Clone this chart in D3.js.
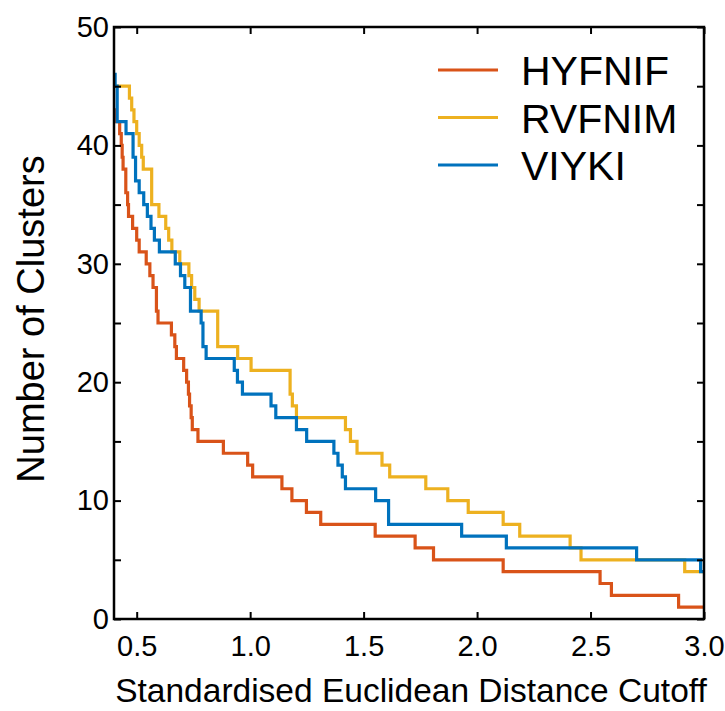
<!DOCTYPE html>
<html>
<head>
<meta charset="utf-8">
<script src="https://cdn.jsdelivr.net/npm/d3@7"></script>
<style>
  body { margin: 0; background: #fff; }
  text { font-family: "Liberation Sans", Arial, Helvetica, sans-serif; fill: #000; }
</style>
</head>
<body>
<svg id="chart" width="725" height="711"></svg>
<script>
// step data: [cutoff where the count starts, number of clusters]
const hyfnif = [
  [0.400, 43], [0.409, 42], [0.425, 41], [0.432, 40], [0.436, 39], [0.440, 38],
  [0.452, 36], [0.460, 35], [0.464, 34], [0.482, 33], [0.500, 32], [0.511, 31],
  [0.542, 30], [0.558, 29], [0.572, 28], [0.587, 26], [0.594, 25], [0.653, 24],
  [0.668, 23], [0.675, 22], [0.707, 21], [0.720, 20], [0.728, 19], [0.733, 18],
  [0.740, 17], [0.745, 16], [0.770, 15], [0.882, 14], [0.989, 13], [1.011, 12],
  [1.140, 11], [1.184, 10], [1.248, 9], [1.311, 8], [1.551, 7], [1.727, 6],
  [1.808, 5], [2.115, 4], [2.542, 3], [2.592, 2], [2.888, 1], [3.0, 1]
];
const rvfnim = [
  [0.400, 45], [0.468, 44], [0.478, 43], [0.488, 42], [0.500, 41], [0.511, 40],
  [0.522, 39], [0.529, 38], [0.566, 35], [0.598, 34], [0.628, 33], [0.641, 32],
  [0.655, 31], [0.690, 30], [0.730, 29], [0.742, 28], [0.756, 27], [0.775, 26],
  [0.857, 23], [0.945, 22], [1.004, 21], [1.176, 19], [1.186, 18], [1.204, 17],
  [1.420, 16], [1.442, 15], [1.471, 14], [1.581, 13], [1.615, 12], [1.774, 11],
  [1.871, 10], [1.961, 9], [2.115, 8], [2.188, 7], [2.410, 6], [2.458, 5],
  [2.915, 4], [3.0, 4]
];
const viyki = [
  [0.400, 46], [0.405, 45], [0.414, 42], [0.453, 41], [0.484, 39], [0.495, 37],
  [0.511, 36], [0.531, 35], [0.547, 34], [0.563, 33], [0.578, 32], [0.600, 31],
  [0.670, 30], [0.693, 29], [0.712, 28], [0.737, 26], [0.784, 25], [0.792, 23],
  [0.806, 22], [0.930, 21], [0.944, 20], [0.966, 19], [1.092, 18], [1.113, 17],
  [1.204, 16], [1.249, 15], [1.369, 14], [1.387, 13], [1.406, 12], [1.420, 11],
  [1.553, 10], [1.610, 8], [1.932, 7], [2.129, 6], [2.703, 5], [2.985, 4], [3.0, 4]
];

const seriesNames = ["HYFNIF", "RVFNIM", "VIYKI"];
const seriesColors = ["#D95319", "#EDB120", "#0072BD"];
const xTicks = [0.5, 1.0, 1.5, 2.0, 2.5, 3.0];
const yTicks = [0, 5, 10, 15, 20, 25, 30, 35, 40, 45, 50];
const yLabels = [0, 10, 20, 30, 40, 50];

const margin = { top: 27, right: 21, bottom: 92, left: 114 },
  w = 725 - margin.left - margin.right,
  h = 711 - margin.top - margin.bottom;

const svg = d3.select("#chart");
const g = svg.append("g").attr("transform", `translate(${margin.left}, ${margin.top})`);

const xscale = d3.scaleLinear().domain([0.4, 3.0]).range([0, w]);
const yscale = d3.scaleLinear().domain([0, 50]).range([h, 0]);

// lines
const line = d3.line()
  .x(d => xscale(d[0]))
  .y(d => yscale(d[1]))
  .curve(d3.curveStepAfter);

const allSeries = [hyfnif, rvfnim, viyki];
g.selectAll(".series").data(allSeries).join("path")
  .attr("class", "series")
  .attr("d", line)
  .attr("fill", "none")
  .attr("stroke", (d, i) => seriesColors[i])
  .attr("stroke-width", 3.2)
  .attr("stroke-linejoin", "miter");

// axes, ticks pointing inside, box all round
const tickLen = 7;
g.append("g").attr("transform", `translate(0, ${h})`)
  .call(d3.axisBottom(xscale).tickValues(xTicks).tickSizeInner(-tickLen).tickSizeOuter(0)
    .tickFormat(d3.format(".1f")).tickPadding(16));
g.append("g")
  .call(d3.axisTop(xscale).tickValues(xTicks).tickSizeInner(-tickLen).tickSizeOuter(0).tickFormat(""));
g.append("g")
  .call(d3.axisLeft(yscale).tickValues(yTicks).tickSizeInner(-tickLen).tickSizeOuter(0)
    .tickFormat(d => yLabels.includes(d) ? d : "").tickPadding(5));
g.append("g").attr("transform", `translate(${w}, 0)`)
  .call(d3.axisRight(yscale).tickValues(yTicks).tickSizeInner(-tickLen).tickSizeOuter(0).tickFormat(""));

g.selectAll(".domain").remove();
g.selectAll(".tick line").attr("stroke", "#000").attr("stroke-width", 2);
g.selectAll(".tick text").style("font-size", "29px").attr("fill", "#000")
  .style("font-family", "'Liberation Sans', Arial, sans-serif");

g.append("rect")
  .attr("x", 0).attr("y", 0).attr("width", w).attr("height", h)
  .attr("fill", "none").attr("stroke", "#000").attr("stroke-width", 2.5);

// axis titles
svg.append("text")
  .attr("x", margin.left + w / 2 + 2).attr("y", 702)
  .attr("text-anchor", "middle")
  .style("font-size", "33.5px")
  .text("Standardised Euclidean Distance Cutoff");

svg.append("text")
  .attr("transform", `translate(44, ${margin.top + h / 2-4}) rotate(-90)`)
  .attr("text-anchor", "middle")
  .style("font-size", "38px")
  .text("Number of Clusters");

// legend
const legend = svg.append("g");
seriesNames.forEach((name, i) => {
  const ly = 70 + i * 47.5;
  legend.append("line")
    .attr("x1", 438).attr("x2", 498).attr("y1", ly).attr("y2", ly)
    .attr("stroke", seriesColors[i]).attr("stroke-width", 3);
  legend.append("text")
    .attr("x", 521).attr("y", ly + 15)
    .style("font-size", "41px")
    .text(name);
});
</script>
</body>
</html>
